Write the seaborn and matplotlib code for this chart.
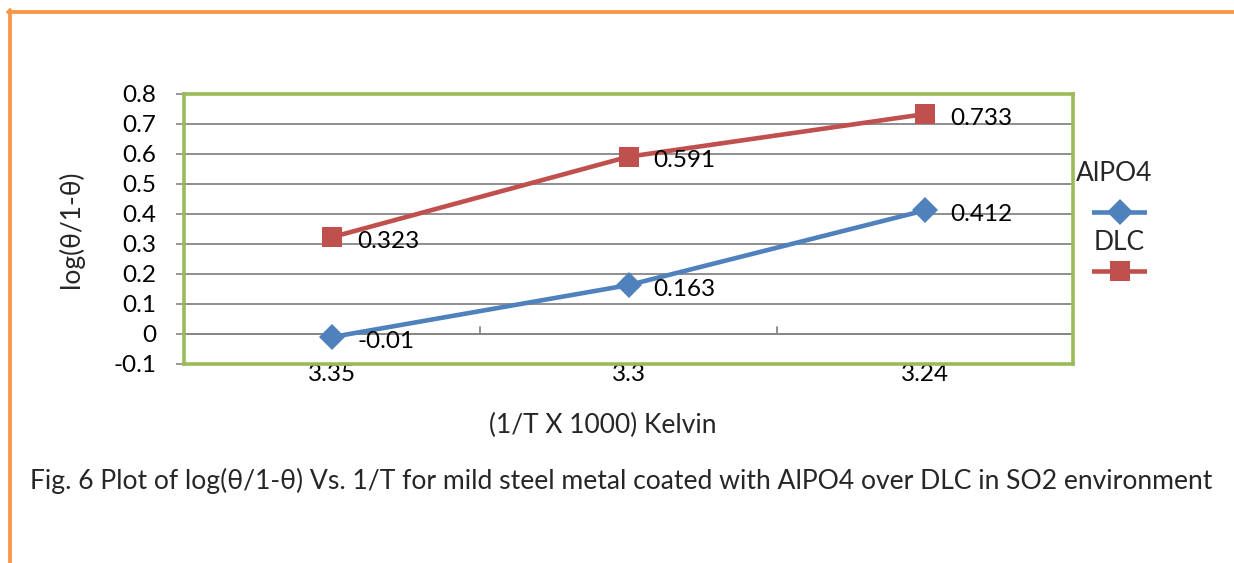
import matplotlib
matplotlib.use("Agg")
import matplotlib.pyplot as plt
from matplotlib.lines import Line2D
import seaborn as sns
import pandas as pd

categories = ["3.35", "3.3", "3.24"]
alpo4 = [-0.01, 0.163, 0.412]
dlc = [0.323, 0.591, 0.733]
y_ticks = [-0.1, 0, 0.1, 0.2, 0.3, 0.4, 0.5, 0.6, 0.7, 0.8]
y_tick_labels = ["-0.1", "0", "0.1", "0.2", "0.3", "0.4", "0.5", "0.6", "0.7", "0.8"]

BLUE = "#4F81BD"
RED = "#C0504D"
GREEN = "#9BBB59"
ORANGE = "#F79646"
GRID = "#868686"

NUM_FS = 17.5
TXT_FS = 19

sns.set_theme(style="white")
plt.rcParams["font.family"] = ["Lato", "DejaVu Sans"]

df = pd.DataFrame({
    "x": categories * 2,
    "value": alpo4 + dlc,
    "series": ["AlPO4"] * len(categories) + ["DLC"] * len(categories),
})

fig = plt.figure(figsize=(12.34, 5.63), dpi=100)
ax = fig.add_axes([184 / 1234, 1 - 364 / 563, (1073 - 184) / 1234, (364 - 94) / 563])

sns.lineplot(data=df[df.series == "AlPO4"], x="x", y="value", ax=ax, color=BLUE,
             linewidth=3.3, marker="D", markersize=13, markeredgewidth=0, sort=False)
sns.lineplot(data=df[df.series == "DLC"], x="x", y="value", ax=ax, color=RED,
             linewidth=3.3, marker="s", markersize=14, markeredgewidth=0, sort=False)

ax.set_xlim(-0.5, len(categories) - 0.5)
ax.set_ylim(-0.1, 0.8)
ax.set_yticks(y_ticks)
ax.set_yticklabels(y_tick_labels)
ax.yaxis.grid(True, color=GRID, linewidth=1.3)
ax.set_axisbelow(True)

# horizontal axis line at zero with boundary ticks between categories
ax.axhline(0, color=GRID, linewidth=1.3, zorder=1)
for b in range(1, len(categories) + 1):
    ax.plot([b - 0.5, b - 0.5], [0, 0.022], color=GRID, linewidth=1.3, zorder=1,
            clip_on=False)

for s in ax.spines.values():
    s.set_color(GREEN)
    s.set_linewidth(2.6)

ax.tick_params(axis="y", length=6, width=1.2, color=GRID, pad=14, labelsize=NUM_FS,
               left=True)
ax.tick_params(axis="x", length=0, pad=0, labelsize=NUM_FS)
for lab in ax.get_xticklabels() + ax.get_yticklabels():
    lab.set_color("black")

ax.set_xlabel("")
ax.set_ylabel("log(θ/1-θ)", fontsize=TXT_FS)
ax.yaxis.set_label_coords((84 - 184) / 889, 0.5)

# data labels
for vals in (alpo4, dlc):
    for i, v in enumerate(vals):
        ax.annotate(f"{v:g}", (i, v), xytext=(18, -3), textcoords="offset points",
                    ha="left", va="center", fontsize=NUM_FS, color="black")

fig.text(603 / 1234, 1 - 425 / 563, "(1/T X 1000) Kelvin", ha="center", va="center",
         fontsize=TXT_FS)
fig.text(30 / 1234, 1 - 481 / 563,
         "Fig. 6 Plot of log(θ/1-θ) Vs. 1/T for mild steel metal coated with AlPO4 over DLC in SO2 environment",
         ha="left", va="center", fontsize=TXT_FS * 1.005)

# legend
fig.text(1114 / 1234, 1 - 173 / 563, "AlPO4", ha="center", va="center", fontsize=TXT_FS)
fig.text(1119 / 1234, 1 - 243 / 563, "DLC", ha="center", va="center", fontsize=TXT_FS)
leg_ax = fig.add_axes([1092 / 1234, 0, (1147 - 1092) / 1234, 1])
leg_ax.set_axis_off()
leg_ax.set_xlim(0, 1)
leg_ax.set_ylim(0, 563)
leg_ax.plot([0, 1], [563 - 212] * 2, color=BLUE, linewidth=3.3, solid_capstyle="round")
leg_ax.plot([0.5], [563 - 212], marker="D", color=BLUE, markersize=13, markeredgewidth=0)
leg_ax.plot([0, 1], [563 - 271] * 2, color=RED, linewidth=3.3, solid_capstyle="round")
leg_ax.plot([0.5], [563 - 271], marker="s", color=RED, markersize=14, markeredgewidth=0)

# orange frame on left and top
fig.add_artist(Line2D([9.5 / 1234, 9.5 / 1234], [0, 1 - 10 / 563], color=ORANGE,
                      linewidth=2.7, transform=fig.transFigure))
fig.add_artist(Line2D([8 / 1234, 1], [1 - 11.5 / 563, 1 - 11.5 / 563], color=ORANGE,
                      linewidth=2.7, transform=fig.transFigure))

fig.savefig("out.png", dpi=100)
